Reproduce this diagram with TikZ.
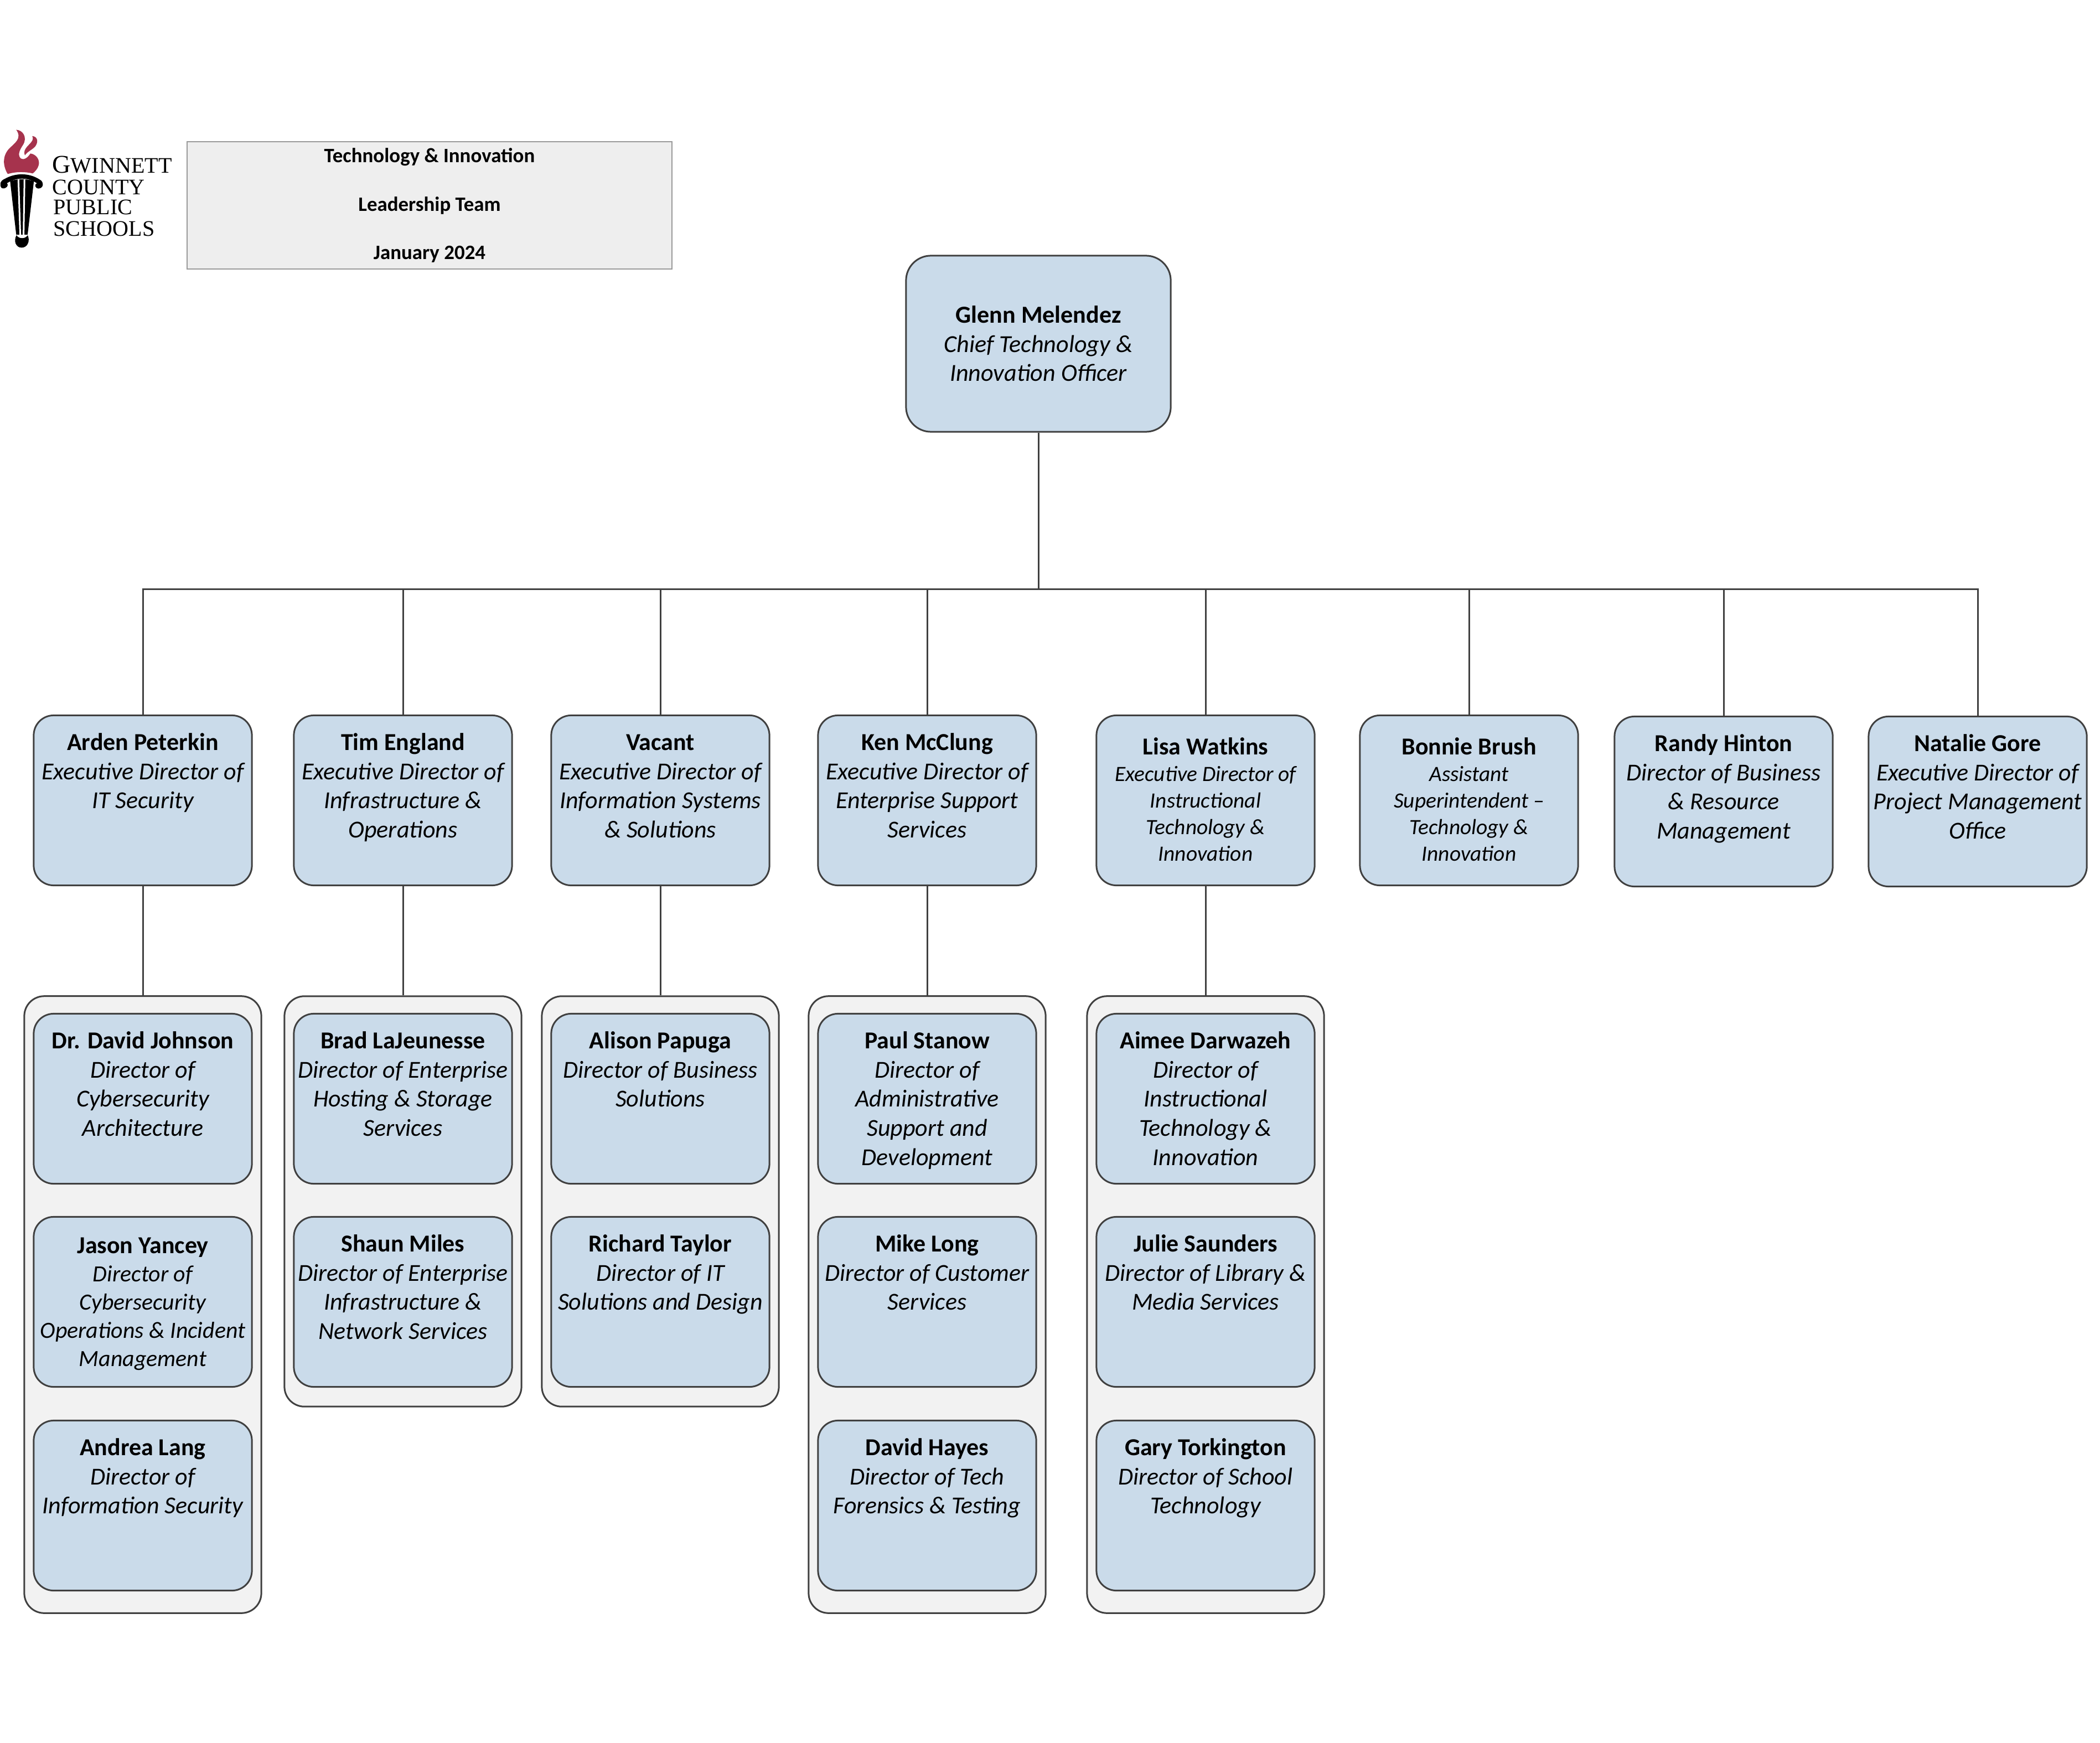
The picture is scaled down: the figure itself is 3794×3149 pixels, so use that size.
\documentclass[tikz,border=0pt]{standalone}
\usepackage{fontspec}
\setmainfont{Carlito}
\newfontfamily\logofont{Liberation Serif}
\definecolor{cardblue}{HTML}{CADBEA}
\definecolor{groupgray}{HTML}{F2F2F2}
\definecolor{linegray}{HTML}{404040}
\definecolor{flamered}{HTML}{A6334D}
\def\staffcard[#1/#2/#3]#4#5{\parbox[c][3.07cm][t]{3.94cm}{\centering\fontsize{#1}{#2}\selectfont\vspace*{#3}\strut{\fontsize{12.5}{#2}\selectfont\bfseries #4}\\\itshape #5}}
\newcommand{\bigcard}[2]{\staffcard[12.5/15/0.26cm]{#1}{#2}}
\newcommand{\midcard}[2]{\staffcard[11.9/14.5/0.3cm]{#1}{#2}}
\newcommand{\smallcard}[2]{\staffcard[11.2/13.7/0.37cm]{#1}{#2}}
\tikzset{
	orgline/.style={draw=linegray, line width=0.03cm},
	card/.style={orgline, fill=cardblue, rounded corners=0.36cm, inner sep=0pt, minimum width=3.94cm, minimum height=3.07cm},
	topcard/.style={card, rounded corners=0.45cm, minimum width=4.78cm, minimum height=3.18cm, align=center, font=\fontsize{12.55}{14.9}\selectfont},
	groupbox/.style={orgline, fill=groupgray, rounded corners=0.36cm, minimum width=4.28cm},
	titlebox/.style={draw=black!40, line width=0.02cm, fill=black!6.5, inner sep=0pt, minimum width=8.76cm, minimum height=2.3cm, align=center, font=\fontsize{10.5}{24.9}\selectfont\bfseries},
	logotext/.style={anchor=base west, inner sep=0pt, font=\logofont\fontsize{11.4}{11.4}\selectfont}
}
\begin{document}
\begin{tikzpicture}[x=0.01cm, y=-0.01cm]
	%%%%% START %%%%%
	\useasboundingbox (0, 0) rectangle (3794, 3149);
	
	% torch
	\begin{scope}[x=0.00333cm, y=-0.00333cm, yshift=-2.25cm]
		\fill[flamered] (42, 268) .. controls (15, 225) and (12, 170) .. (50, 130) .. controls (80, 100) and (122, 75) .. (88, 28)
			.. controls (125, 30) and (150, 70) .. (125, 110) .. controls (105, 140) and (95, 165) .. (112, 183)
			.. controls (130, 195) and (150, 180) .. (165, 157) .. controls (195, 160) and (218, 190) .. (210, 220)
			.. controls (205, 240) and (190, 255) .. (178, 265) .. controls (135, 255) and (85, 255) .. (42, 268) -- cycle;
		\fill[flamered] (135, 167) .. controls (120, 130) and (165, 110) .. (176, 85) .. controls (180, 75) and (178, 68) .. (175, 62)
			.. controls (205, 65) and (210, 95) .. (190, 120) .. controls (170, 140) and (150, 145) .. (135, 167) -- cycle;
		\fill[black] (10, 345) .. controls (-5, 330) and (0, 305) .. (25, 295) .. controls (85, 260) and (160, 262) .. (215, 298)
			.. controls (240, 310) and (238, 345) .. (210, 347) .. controls (190, 347) and (185, 325) .. (200, 318)
			.. controls (150, 285) and (90, 285) .. (38, 318) .. controls (50, 328) and (35, 352) .. (10, 345) -- cycle;
		\fill[black] (55, 307) .. controls (95, 293) and (145, 293) .. (184, 307) -- (150, 597) -- (88, 597) -- cycle;
		\draw[white, line width=0.03cm] (100, 298) -- (110, 600) (133, 298) -- (128, 600);
		\fill[black] (90, 600) .. controls (100, 622) and (140, 622) .. (150, 600) .. controls (165, 630) and (150, 668) .. (118, 668)
			.. controls (85, 668) and (72, 630) .. (90, 600) -- cycle;
	\end{scope}
	
	% logo text
	\node[logotext] (logogwinnett) at (94, 313) {{\fontsize{13.1}{13.1}\selectfont G}WINNETT};
	\node[logotext] (logocounty) at (94, 352) {COUNTY};
	\node[logotext] (logopublic) at (96, 388) {PUBLIC};
	\node[logotext] (logoschools) at (96, 427) {SCHOOLS};
	
	\node[titlebox] (title) at (776, 371) {Technology \& Innovation\\Leadership Team\\January 2024};
	
	% top of the chart
	\node[topcard] (glenn) at (1876, 621) {{\bfseries Glenn Melendez}\\\itshape Chief Technology \&\\\itshape Innovation Officer};
	\coordinate (bus) at (1876, 1064);
	
	\node[card] (arden) at (258, 1446) {\bigcard{Arden Peterkin}{Executive Director of\\IT Security}};
	\node[card] (tim) at (728, 1446) {\bigcard{Tim England}{Executive Director of\\Infrastructure \&\\Operations}};
	\node[card] (vacant) at (1193, 1446) {\bigcard{Vacant}{Executive Director of\\Information Systems\\\& Solutions}};
	\node[card] (ken) at (1675, 1446) {\bigcard{Ken McClung}{Executive Director of\\Enterprise Support\\Services}};
	\node[card] (lisa) at (2178, 1446) {\smallcard{Lisa Watkins}{Executive Director of\\Instructional\\Technology \&\\Innovation}};
	\node[card] (bonnie) at (2654, 1446) {\smallcard{Bonnie Brush}{Assistant\\Superintendent --\\Technology \&\\Innovation}};
	\node[card] (randy) at (3114, 1448) {\bigcard{Randy Hinton}{Director of Business\\\& Resource\\Management}};
	\node[card] (natalie) at (3573, 1448) {\bigcard{Natalie Gore}{Executive Director of\\Project Management\\Office}};
	
	% groups behind the directors
	\node[groupbox, minimum height=11.14cm] (ardengroup) at (258, 2357) {};
	\node[groupbox, minimum height=7.41cm] (timgroup) at (728, 2170.5) {};
	\node[groupbox, minimum height=7.41cm] (vacantgroup) at (1193, 2170.5) {};
	\node[groupbox, minimum height=11.14cm] (kengroup) at (1675, 2357) {};
	\node[groupbox, minimum height=11.14cm] (lisagroup) at (2178, 2357) {};
	
	\node[card] (david) at (258, 1985) {\bigcard{Dr. David Johnson}{Director of\\Cybersecurity\\Architecture}};
	\node[card] (jason) at (258, 2352) {\midcard{Jason Yancey}{Director of\\Cybersecurity\\Operations \& Incident\\Management}};
	\node[card] (andrea) at (258, 2720) {\bigcard{Andrea Lang}{Director of\\Information Security}};
	
	\node[card] (brad) at (728, 1985) {\bigcard{Brad LaJeunesse}{Director of Enterprise\\Hosting \& Storage\\Services}};
	\node[card] (shaun) at (728, 2352) {\bigcard{Shaun Miles}{Director of Enterprise\\Infrastructure \&\\Network Services}};
	
	\node[card] (alison) at (1193, 1985) {\bigcard{Alison Papuga}{Director of Business\\Solutions}};
	\node[card] (richard) at (1193, 2352) {\bigcard{Richard Taylor}{Director of IT\\Solutions and Design}};
	
	\node[card] (paul) at (1675, 1985) {\bigcard{Paul Stanow}{Director of\\Administrative\\Support and\\Development}};
	\node[card] (mike) at (1675, 2352) {\bigcard{Mike Long}{Director of Customer\\Services}};
	\node[card] (hayes) at (1675, 2720) {\bigcard{David Hayes}{Director of Tech\\Forensics \& Testing}};
	
	\node[card] (aimee) at (2178, 1985) {\bigcard{Aimee Darwazeh}{Director of\\Instructional\\Technology \&\\Innovation}};
	\node[card] (julie) at (2178, 2352) {\bigcard{Julie Saunders}{Director of Library \&\\Media Services}};
	\node[card] (gary) at (2178, 2720) {\bigcard{Gary Torkington}{Director of School\\Technology}};
	
	% connectors
	\draw[orgline] (glenn.south) -- (bus);
	\foreach \lead in {arden, tim, vacant, ken, lisa, bonnie, randy, natalie}
		\draw[orgline] (bus) -| (\lead.north);
	\foreach \lead in {arden, tim, vacant, ken, lisa}
		\draw[orgline] (\lead.south) -- (\lead group.north);
	
	%%%%% END %%%%%
\end{tikzpicture}
\end{document}
